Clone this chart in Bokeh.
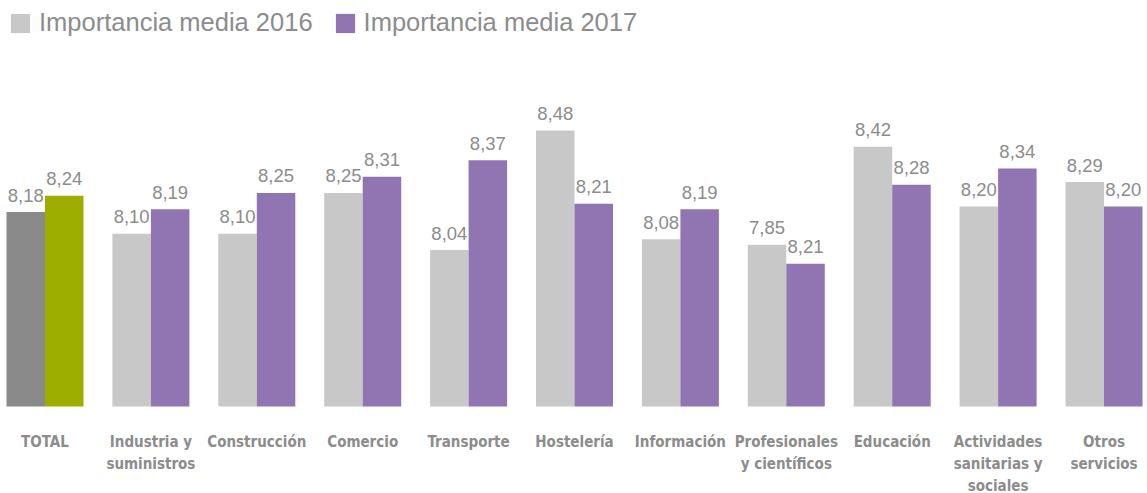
from bokeh.plotting import figure
from bokeh.models import ColumnDataSource, Range1d, Legend, LegendItem
from bokeh.embed import file_html
from bokeh.resources import INLINE
from bokeh.core.properties import value

# ---- data ----
categories = ["TOTAL", "Industria y\nsuministros", "Construcción", "Comercio",
              "Transporte", "Hostelería", "Información",
              "Profesionales\ny científicos", "Educación",
              "Actividades\nsanitarias y\nsociales", "Otros\nservicios"]
labels_2016 = ["8,18", "8,10", "8,10", "8,25", "8,04", "8,48", "8,08", "7,85", "8,42", "8,20", "8,29"]
labels_2017 = ["8,24", "8,19", "8,25", "8,31", "8,37", "8,21", "8,19", "8,21", "8,28", "8,34", "8,20"]
# bar heights as drawn in the reference (Profesionales bars are drawn off their labels there)
bars_2016 = [8.18, 8.10, 8.10, 8.25, 8.04, 8.48, 8.08, 8.06, 8.42, 8.20, 8.29]
bars_2017 = [8.24, 8.19, 8.25, 8.31, 8.37, 8.21, 8.19, 7.99, 8.28, 8.34, 8.20]
series_names = ["Importancia media 2016", "Importancia media 2017"]

# ---- styling / layout ----
W, H = 1147, 493
PX_X = 105.9      # px per category
PX_Y = 272.0      # px per value unit
BASE = 7.465      # value at bar baseline
C16, C17 = "#c8c8c8", "#9175b3"
CT16, CT17 = "#8a8a8a", "#9dae00"
TXT = "#8c8c8c"
BW = 38.5 / PX_X
OFF = 19.25 / PX_X
CAT_FONT = "'DejaVu Sans Condensed', 'DejaVu Sans', sans-serif"

x0 = -44.5 / PX_X
y0 = BASE - 87 / PX_Y
p = figure(width=W, height=H, output_backend="svg", toolbar_location=None,
           x_range=Range1d(x0, x0 + W / PX_X), y_range=Range1d(y0, y0 + H / PX_Y),
           x_axis_location=None, y_axis_location=None, min_border=0,
           outline_line_color=None, background_fill_color="white")
p.grid.visible = False

n = len(categories)
idx = list(range(n))
src16 = ColumnDataSource(dict(x=[i - OFF for i in idx[1:]], top=bars_2016[1:]))
src17 = ColumnDataSource(dict(x=[i + OFF for i in idx[1:]], top=bars_2017[1:]))
r16 = p.vbar(x="x", top="top", bottom=BASE, width=BW, source=src16, fill_color=C16, line_color=None)
r17 = p.vbar(x="x", top="top", bottom=BASE, width=BW, source=src17, fill_color=C17, line_color=None)
p.vbar(x=[0 - OFF], top=[bars_2016[0]], bottom=BASE, width=BW, fill_color=CT16, line_color=None)
p.vbar(x=[0 + OFF], top=[bars_2017[0]], bottom=BASE, width=BW, fill_color=CT17, line_color=None)

# value labels
LAB_GAP = 17
lab = ColumnDataSource(dict(
    x=[i - OFF for i in idx] + [i + OFF for i in idx],
    y=[v + LAB_GAP / PX_Y for v in bars_2016] + [v + LAB_GAP / PX_Y for v in bars_2017],
    t=labels_2016 + labels_2017))
p.text(x="x", y="y", text="t", source=lab, text_align="center", text_baseline="alphabetic",
       text_font=value("Liberation Sans"), text_font_size="18.5px", text_color=TXT)

# category labels (multi-line)
line_off = [35, 57, 79]
cx, cy, ct = [], [], []
for i, c in enumerate(categories):
    for k, line in enumerate(c.split("\n")):
        cx.append(i)
        cy.append(BASE - line_off[k] / PX_Y)
        ct.append(line)
p.text(x=cx, y=cy, text=ct, text_align="center", text_baseline="alphabetic",
       text_font=value(CAT_FONT), text_font_style="bold",
       text_font_size="15px", text_color=TXT)

legend = Legend(items=[LegendItem(label=series_names[0], renderers=[r16]),
                       LegendItem(label=series_names[1], renderers=[r17])],
                orientation="horizontal", location="top_left", margin=8, padding=0,
                glyph_width=24, glyph_height=24, label_standoff=7, spacing=20,
                label_text_font="Liberation Sans", label_text_font_size="25.5px",
                label_text_color=TXT, border_line_color=None, background_fill_alpha=0)
p.add_layout(legend)

open("out.html", "w").write(file_html(p, INLINE))
